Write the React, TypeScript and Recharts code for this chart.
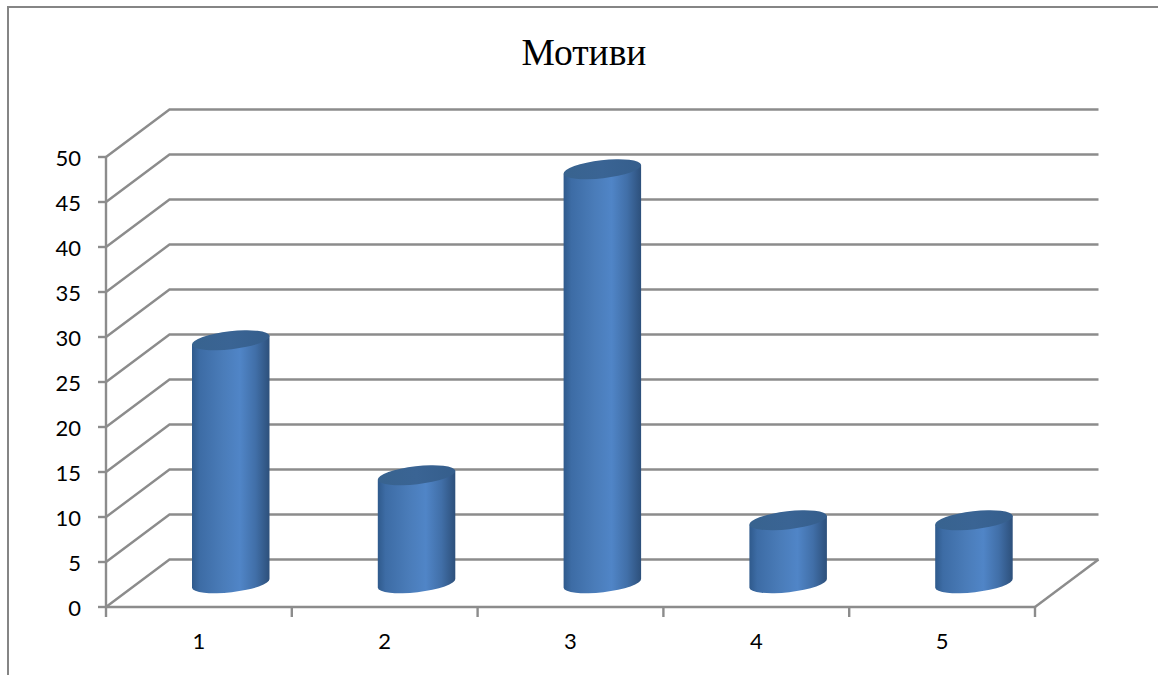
import { Bar, BarChart, CartesianGrid, XAxis, YAxis } from "recharts"

const categories = ["1", "2", "3", "4", "5"]
const motives = [27, 12, 46, 7, 7]
const valueTicks = [0, 5, 10, 15, 20, 25, 30, 35, 40, 45, 50]

const rows = categories.map((name, i) => ({ name, value: motives[i] }))

const AXIS_COLOR = "#8c8c8c"
const LABEL_FONT = "Lato, sans-serif"

// depth of the fake 3D box, in pixels
const DEPTH_X = 63.5
const DEPTH_Y = 47.5

const RX = 39
const RY = 9
const TILT = 6.5

function Cylinder(props: any) {
  const { x, y, width, height } = props
  const cx = x + width / 2 + DEPTH_X / 2
  const top = y - DEPTH_Y / 2
  const bottom = top + height
  const rad = (TILT * Math.PI) / 180
  const dx = RX * Math.cos(rad)
  const dy = RX * Math.sin(rad)
  // the lid is painted over the straight closing edge of the body
  const body =
    `M${cx - dx},${top + dy} L${cx - dx},${bottom + dy} ` +
    `A${RX},${RY} ${-TILT} 0 0 ${cx + dx},${bottom - dy} ` +
    `L${cx + dx},${top - dy} Z`
  return (
    <g>
      <path d={body} fill="url(#cylinderSide)" />
      <ellipse
        cx={cx}
        cy={top}
        rx={RX}
        ry={RY}
        transform={`rotate(${-TILT} ${cx} ${top})`}
        fill="url(#cylinderTop)"
      />
    </g>
  )
}

// each value line runs along the side wall and then across the back wall
function WallLine(props: any) {
  const { x1, y1, x2, y2 } = props
  return (
    <polyline
      points={`${x1},${y1} ${x1 + DEPTH_X},${y1 - DEPTH_Y} ${x2 + DEPTH_X},${y2 - DEPTH_Y}`}
      fill="none"
      stroke={AXIS_COLOR}
      strokeWidth={2.4}
    />
  )
}

function CategoryTick(props: any) {
  const { x, y, payload, width, visibleTicksCount, index } = props
  const step = width / visibleTicksCount
  const left = x - step / 2
  const right = x + step / 2
  return (
    <g>
      <line x1={left} y1={y - 8} x2={left} y2={y + 2} stroke={AXIS_COLOR} strokeWidth={2.4} />
      {index === visibleTicksCount - 1 && (
        <>
          <line x1={right} y1={y - 8} x2={right} y2={y + 2} stroke={AXIS_COLOR} strokeWidth={2.4} />
          <line
            x1={right}
            y1={y - 8}
            x2={right + DEPTH_X}
            y2={y - 8 - DEPTH_Y}
            stroke={AXIS_COLOR}
            strokeWidth={2.4}
          />
        </>
      )}
      <text x={x} y={y + 34} textAnchor="middle" fontFamily={LABEL_FONT} fontSize={22} fill="#000">
        {payload.value}
      </text>
    </g>
  )
}

export default function App() {
  return (
    <div
      style={{
        position: "absolute",
        left: 0,
        top: 0,
        width: 1158,
        height: 675,
        background: "#fff",
        overflow: "hidden",
      }}
    >
      <div
        style={{
          position: "absolute",
          left: 7,
          top: 6,
          right: 0,
          bottom: 0,
          borderLeft: "2px solid #858585",
          borderTop: "2px solid #858585",
        }}
      />
      <div
        style={{
          position: "absolute",
          left: 484,
          width: 200,
          top: 31,
          textAlign: "center",
          fontFamily: "'Liberation Serif', serif",
          fontSize: 37.5,
          color: "#000",
        }}
      >
        Мотиви
      </div>
      <svg width={0} height={0} style={{ position: "absolute" }}>
        <defs>
          <linearGradient id="cylinderSide" x1="0" y1="0" x2="1" y2="0">
            <stop offset="0%" stopColor="#2f5a8c" />
            <stop offset="10%" stopColor="#3d6ca5" />
            <stop offset="40%" stopColor="#4a7cb9" />
            <stop offset="62%" stopColor="#5085c7" />
            <stop offset="82%" stopColor="#416fa8" />
            <stop offset="100%" stopColor="#2d507b" />
          </linearGradient>
          <linearGradient id="cylinderTop" x1="0" y1="0" x2="1" y2="0">
            <stop offset="0%" stopColor="#38638f" />
            <stop offset="50%" stopColor="#3a6494" />
            <stop offset="100%" stopColor="#355e8c" />
          </linearGradient>
        </defs>
      </svg>
      <div style={{ position: "absolute", left: 0, top: 0 }}>
        <BarChart
          width={1158}
          height={675}
          data={rows}
          margin={{ top: 157, right: 123, bottom: 8, left: 46 }}
          barSize={78}
        >
          <CartesianGrid vertical={false} horizontal={<WallLine />} />
          <XAxis
            dataKey="name"
            axisLine={{ stroke: AXIS_COLOR, strokeWidth: 2.4 }}
            tickLine={false}
            tick={<CategoryTick />}
            interval={0}
            height={60}
          />
          <YAxis
            width={60}
            domain={[0, 50]}
            ticks={valueTicks}
            interval={0}
            axisLine={{ stroke: AXIS_COLOR, strokeWidth: 2.4 }}
            tickLine={{ stroke: AXIS_COLOR, strokeWidth: 2.4 }}
            tickSize={8}
            tickMargin={17}
            tick={{ fill: "#000", fontSize: 22, fontFamily: LABEL_FONT, dy: 1 }}
          />
          <Bar dataKey="value" shape={<Cylinder />} isAnimationActive={false} />
        </BarChart>
      </div>
    </div>
  )
}
